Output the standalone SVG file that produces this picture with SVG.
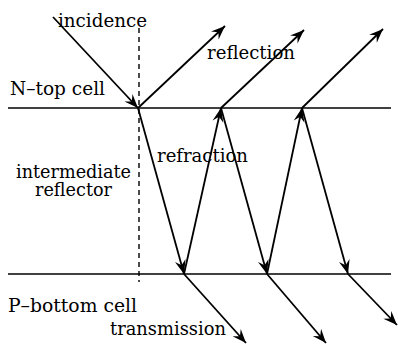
<svg xmlns="http://www.w3.org/2000/svg" width="398" height="345" viewBox="0 0 398 345">
<defs>
<style>
.lbl{font-family:"DejaVu Serif","Liberation Serif",serif;font-size:19px;fill:#000}
.bd{stroke:#000;stroke-width:1.5;fill:none}
.ar{stroke:#000;stroke-width:1.8;fill:none;marker-end:url(#ah)}
.dash{stroke:#000;stroke-width:1.4;stroke-dasharray:5,4;fill:none}
</style>
<marker id="ah" markerUnits="userSpaceOnUse" markerWidth="16" markerHeight="12" viewBox="-14 -6 15 12" refX="0" refY="0" orient="auto">
<path d="M0,0 L-14,-5.5 L-9,0 L-14,5.5 Z" fill="#000"/>
</marker>
</defs>
<rect width="398" height="345" fill="#fff"/>
<g id="layers">
<line class="bd" x1="8" y1="108" x2="391" y2="108"/>
<line class="bd" x1="8" y1="274" x2="391" y2="274"/>
<line class="dash" x1="139" y1="28" x2="139" y2="282"/>
</g>
<g id="connectors">
<line class="ar" x1="53" y1="17" x2="138" y2="108"/>
<line class="ar" x1="138" y1="108" x2="225" y2="26"/>
<line class="ar" x1="221" y1="108" x2="304" y2="30"/>
<line class="ar" x1="302" y1="108" x2="383" y2="29"/>
<line class="ar" x1="138" y1="108" x2="184" y2="274"/>
<line class="ar" x1="184" y1="274" x2="221" y2="108"/>
<line class="ar" x1="221" y1="108" x2="267" y2="274"/>
<line class="ar" x1="267" y1="274" x2="302" y2="108"/>
<line class="ar" x1="302" y1="108" x2="348" y2="274"/>
<line class="ar" x1="184" y1="274" x2="246" y2="343"/>
<line class="ar" x1="267" y1="274" x2="326" y2="343"/>
<line class="ar" x1="348" y1="274" x2="397" y2="325"/>
</g>
<g id="label-incidence"><text class="lbl" x="58" y="27" textLength="89" lengthAdjust="spacingAndGlyphs">incidence</text></g>
<g id="label-reflection"><text class="lbl" x="207" y="59" textLength="88" lengthAdjust="spacingAndGlyphs">reflection</text></g>
<g id="label-ntop"><text class="lbl" x="10" y="95" textLength="95" lengthAdjust="spacingAndGlyphs">N–top cell</text></g>
<g id="label-refraction"><text class="lbl" x="157" y="162" textLength="91" lengthAdjust="spacingAndGlyphs">refraction</text></g>
<g id="label-intermediate">
<text class="lbl" x="16" y="178" textLength="115" lengthAdjust="spacingAndGlyphs">intermediate</text>
<text class="lbl" x="35" y="196" textLength="77" lengthAdjust="spacingAndGlyphs">reflector</text>
</g>
<g id="label-pbottom"><text class="lbl" x="8" y="312" textLength="129" lengthAdjust="spacingAndGlyphs">P–bottom cell</text></g>
<g id="label-transmission"><text class="lbl" x="110" y="335" textLength="116" lengthAdjust="spacingAndGlyphs">transmission</text></g>
</svg>
